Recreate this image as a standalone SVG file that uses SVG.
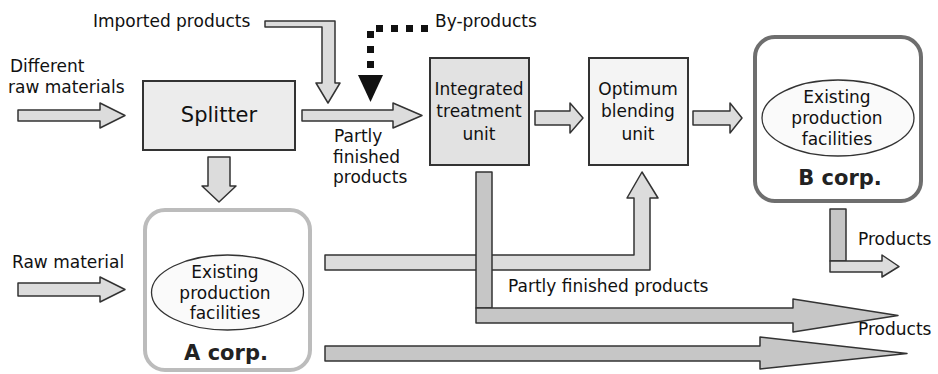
<svg xmlns="http://www.w3.org/2000/svg" width="938" height="374" viewBox="0 0 938 374">
<style>
text{font-family:"DejaVu Sans","Liberation Sans",sans-serif;font-size:17px;fill:#111}
.c{text-anchor:middle}
.big{font-size:21px}
.corp{font-size:21px;font-weight:bold;text-anchor:middle;fill:#222}
.box{stroke:#333;stroke-width:2}
.ell{fill:#fafafa;stroke:#333;stroke-width:1.3}
.arr{fill:#dcdcdc;stroke:#333;stroke-width:1.5;stroke-linejoin:round}
.dark{fill:#c6c6c6;stroke:#333;stroke-width:1.5;stroke-linejoin:round}
</style>
<rect width="938" height="374" fill="#fff"/>
<g id="connectors">
<polygon class="arr" points="18,110 100,110 100,103 125,115.5 100,128 100,121 18,121"/>
<polygon class="arr" points="302,110 393,110 393,103 422,115.5 393,128 393,121 302,121"/>
<polygon class="arr" points="265,21 335,21 335,83 340,83 328,103 316,83 322,83 322,27 265,27"/>
<path d="M428 28.5H370.5V72" fill="none" stroke="#111" stroke-width="7" stroke-dasharray="7 8"/>
<polygon points="358,75 383,75 370.5,102" fill="#111"/>
<polygon class="arr" points="208,157 230,157 230,186 236,186 219,202 202,186 208,186"/>
<polygon class="arr" points="535,111 570,111 570,103 583,118 570,133 570,125 535,125"/>
<polygon class="arr" points="693,111 730,111 730,103 742,118 730,133 730,125 693,125"/>
<polygon class="arr" points="18,283 100,283 100,277 125,289.5 100,302 100,296 18,296"/>
<polygon class="arr" points="325,255 634,255 634,198 627,198 642,172 658,198 650,198 650,270 325,270"/>
<rect class="dark" x="476" y="172" width="16" height="136"/>
<polygon class="dark" points="476,308 793,308 793,299 898,315.5 793,332 793,323 476,323"/>
<polygon class="dark" points="325,346 760,346 760,337 907,353.5 760,369 760,361 325,361"/>
<rect class="dark" x="830" y="209" width="16" height="52"/>
<polygon class="arr" points="830,261 882,261 882,255 899,266.5 882,277 882,272 830,272"/>
</g>
<g id="labels">
<text x="93" y="27">Imported products</text>
<text x="435" y="27">By-products</text>
<text x="10" y="72">Different</text>
<text x="8" y="93">raw materials</text>
<text x="334" y="142">Partly</text>
<text x="333" y="163">finished</text>
<text x="333" y="183">products</text>
<text x="12" y="268">Raw material</text>
<text x="508" y="292">Partly finished products</text>
<text x="858" y="245">Products</text>
<text x="858" y="335">Products</text>
</g>
<g id="splitter">
<rect class="box" x="143" y="81" width="152" height="69" fill="#ececec"/>
<text class="c big" x="219" y="122">Splitter</text>
</g>
<g id="integrated">
<rect class="box" x="430" y="58" width="99" height="107" fill="#e2e2e2"/>
<text class="c" x="479" y="95">Integrated</text>
<text class="c" x="479" y="117">treatment</text>
<text class="c" x="479" y="140">unit</text>
</g>
<g id="optimum">
<rect class="box" x="589" y="58" width="99" height="107" fill="#f4f4f4"/>
<text class="c" x="638" y="95">Optimum</text>
<text class="c" x="638" y="117">blending</text>
<text class="c" x="638" y="140">unit</text>
</g>
<g id="bcorp">
<rect x="755" y="37" width="166" height="164" rx="20" fill="#fff" stroke="#6e6e6e" stroke-width="4"/>
<ellipse class="ell" cx="838" cy="118" rx="76" ry="38"/>
<text class="c" x="837" y="103">Existing</text>
<text class="c" x="837" y="124">production</text>
<text class="c" x="837" y="145">facilities</text>
<text class="corp" x="840" y="185">B corp.</text>
</g>
<g id="acorp">
<rect x="145" y="210" width="165" height="160" rx="20" fill="#fff" stroke="#bcbcbc" stroke-width="4"/>
<ellipse class="ell" cx="227.5" cy="292.5" rx="76" ry="37.5"/>
<text class="c" x="225" y="278">Existing</text>
<text class="c" x="225" y="299">production</text>
<text class="c" x="225" y="319">facilities</text>
<text class="corp" x="226" y="360">A corp.</text>
</g>
</svg>
